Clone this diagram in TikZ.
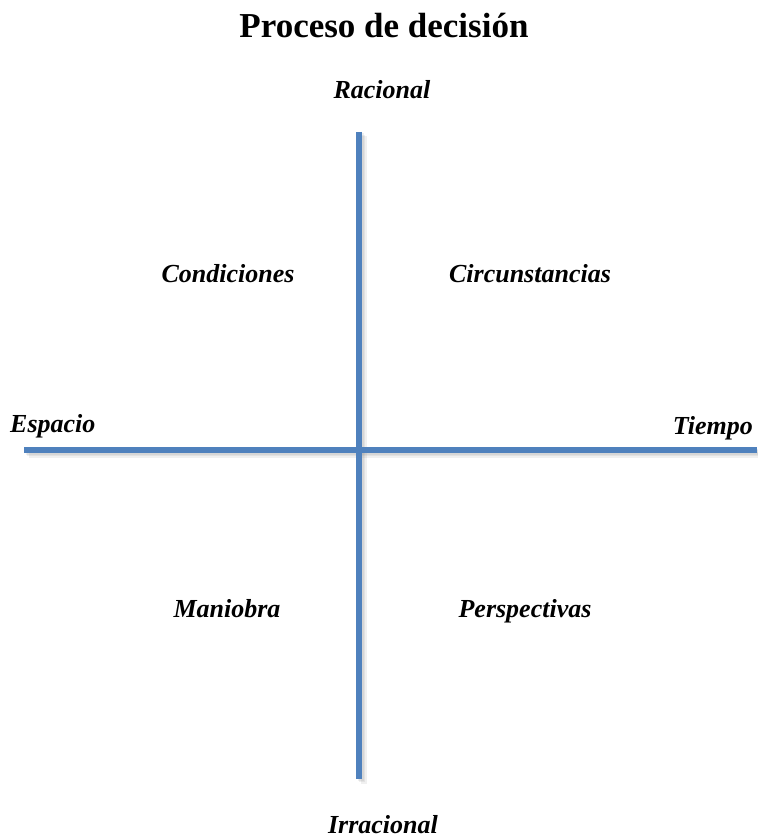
\documentclass[tikz,border=0pt]{standalone}
\usepackage{fontspec}
\setmainfont{Liberation Serif}
\definecolor{axisblue}{HTML}{4F81BD}
\definecolor{shadowgray}{HTML}{808080}
\tikzset{
  lbl/.style={font=\fontsize{26}{30}\selectfont\bfseries\itshape, anchor=base, inner sep=0pt},
  ttl/.style={font=\fontsize{35}{40}\selectfont\bfseries, anchor=base, inner sep=0pt},
  axisline/.style={draw=axisblue, line width=5.5pt},
  axisshadow/.style={draw=shadowgray, line width=6pt, opacity=0.12}
}
\begin{document}
\begin{tikzpicture}[x=1pt,y=-1pt]
\useasboundingbox (0,0) rectangle (757,837);
\coordinate (top) at (359,132);
\coordinate (bot) at (359,779);
\coordinate (left) at (24,450);
\coordinate (right) at (757,450);
% shadows
\foreach \d in {1.5,3,4.5}{
  \draw[axisshadow] ([shift={(\d,\d)}]top) -- ([shift={(\d,\d)}]bot);
  \draw[axisshadow] ([shift={(\d,\d)}]left) -- ([shift={(\d,\d)}]right);
}
\draw[axisline] (top) -- (bot);
\draw[axisline] (left) -- (right);
\node[ttl] (title) at (384,38) {Proceso de decisión};
\node[lbl] (rac) at (382,99) {Racional};
\node[lbl] (irr) at (383,833) {Irracional};
\node[lbl, anchor=base west] (esp) at (10,432) {Espacio};
\node[lbl, anchor=base east] (tie) at (753,434) {Tiempo};
\node[lbl] (cond) at (228,282) {Condiciones};
\node[lbl] (circ) at (530,282) {Circunstancias};
\node[lbl] (man) at (227,617) {Maniobra};
\node[lbl] (per) at (525,617) {Perspectivas};
\end{tikzpicture}
\end{document}
